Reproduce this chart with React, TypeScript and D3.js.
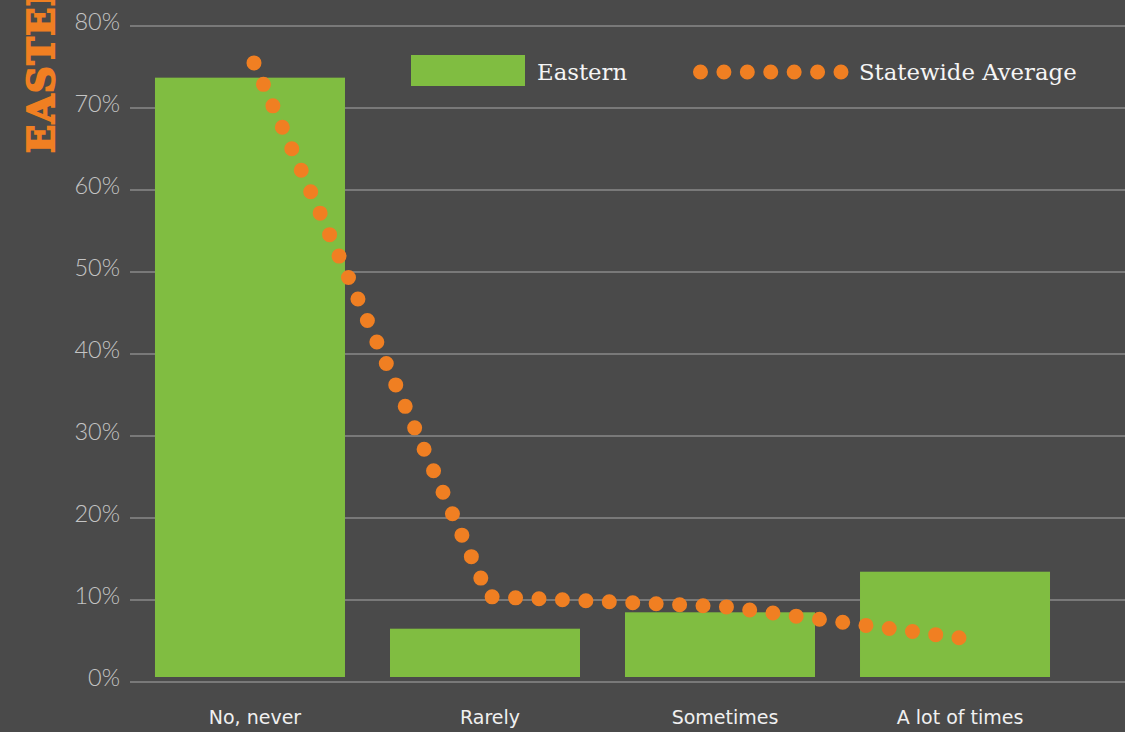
import React from "react";
import * as d3 from "d3";

const categories = ["No, never", "Rarely", "Sometimes", "A lot of times"];
const easternValues = [73.7, 6.5, 8.5, 13.45];
const statewideValues = [75.5, 10.4, 9.2, 5.4];
const yTicks = [0, 10, 20, 30, 40, 50, 60, 70, 80];
const legendLabels = ["Eastern", "Statewide Average"];
const sideTitle = "EASTERN";

const W = 1125;
const H = 732;
const BG = "#4a4a4a";
const GREEN = "#80bd41";
const ORANGE = "#f07f22";

function dashFor(points: [number, number][], target: number) {
  let len = 0;
  for (let i = 1; i < points.length; i++) {
    len += Math.hypot(points[i][0] - points[i - 1][0], points[i][1] - points[i - 1][1]);
  }
  const n = Math.max(1, Math.round(len / target));
  return `0 ${(len / n) - 0.001}`;
}

export default function App() {
  const y = d3.scaleLinear().domain([0, 80]).range([682, 26]);
  const x = d3
    .scaleBand<string>()
    .domain(categories)
    .range([132.5, 1072.5])
    .paddingInner(0.1915)
    .paddingOuter(0.0957);

  const lineOffset = 4;
  const pts: [number, number][] = statewideValues.map((v, i) => [
    (x(categories[i]) as number) + x.bandwidth() / 2 + lineOffset,
    y(v),
  ]);
  const line = d3.line();
  const legendPts: [number, number][] = [
    [700.5, 72],
    [841, 72],
  ];

  const dotStyle = {
    fill: "none",
    stroke: ORANGE,
    strokeWidth: 15,
    strokeLinecap: "round" as const,
  };

  return (
    <svg
      width={W}
      height={H}
      style={{ position: "absolute", left: 0, top: 0, background: BG }}
    >
      <rect x={0} y={0} width={W} height={H} fill={BG} />
      {/* side title */}
      <text
        transform="translate(54,153) rotate(-90)"
        fontFamily="'DejaVu Serif', serif"
        fontWeight="bold"
        fontSize={37}
        fill={ORANGE}
        stroke={ORANGE}
        strokeWidth={2}
        letterSpacing={1.5}
      >
        {sideTitle}
      </text>
      {/* grid + y labels */}
      {yTicks.map((t) => (
        <g key={t}>
          <line x1={130} x2={W} y1={y(t)} y2={y(t)} stroke="#a8a8a8" strokeWidth={1} />
          <text
            x={120}
            y={y(t) + 3.5}
            textAnchor="end"
            fontFamily="Lato, 'Open Sans', sans-serif"
            fontWeight={300}
            fontSize={23.5}
            fill="#c4c4c4"
          >
            {t}%
          </text>
        </g>
      ))}
      {/* bars */}
      {easternValues.map((v, i) => (
        <rect
          key={categories[i]}
          x={x(categories[i])}
          y={y(v)}
          width={x.bandwidth()}
          height={y(0) - y(v) - 5}
          fill={GREEN}
        />
      ))}
      {/* statewide dotted line */}
      <path d={line(pts) || ""} {...dotStyle} strokeDasharray={dashFor(pts, 23.4)} />
      {/* x labels */}
      {categories.map((c) => (
        <text
          key={c}
          x={(x(c) as number) + x.bandwidth() / 2 + 5}
          y={724}
          textAnchor="middle"
          fontFamily="'DejaVu Sans', sans-serif"
          fontSize={19}
          fill="#f0f0f0"
        >
          {c}
        </text>
      ))}
      {/* legend */}
      <rect x={411} y={55} width={114} height={31} fill={GREEN} />
      <text
        x={537}
        y={80}
        fontFamily="'DejaVu Serif', serif"
        fontSize={22.8}
        fill="#f5f5f5"
      >
        {legendLabels[0]}
      </text>
      <path d={line(legendPts) || ""} {...dotStyle} strokeDasharray={dashFor(legendPts, 23.4)} />
      <text
        x={859}
        y={80}
        fontFamily="'DejaVu Serif', serif"
        fontSize={22.8}
        fill="#f5f5f5"
      >
        {legendLabels[1]}
      </text>
    </svg>
  );
}
